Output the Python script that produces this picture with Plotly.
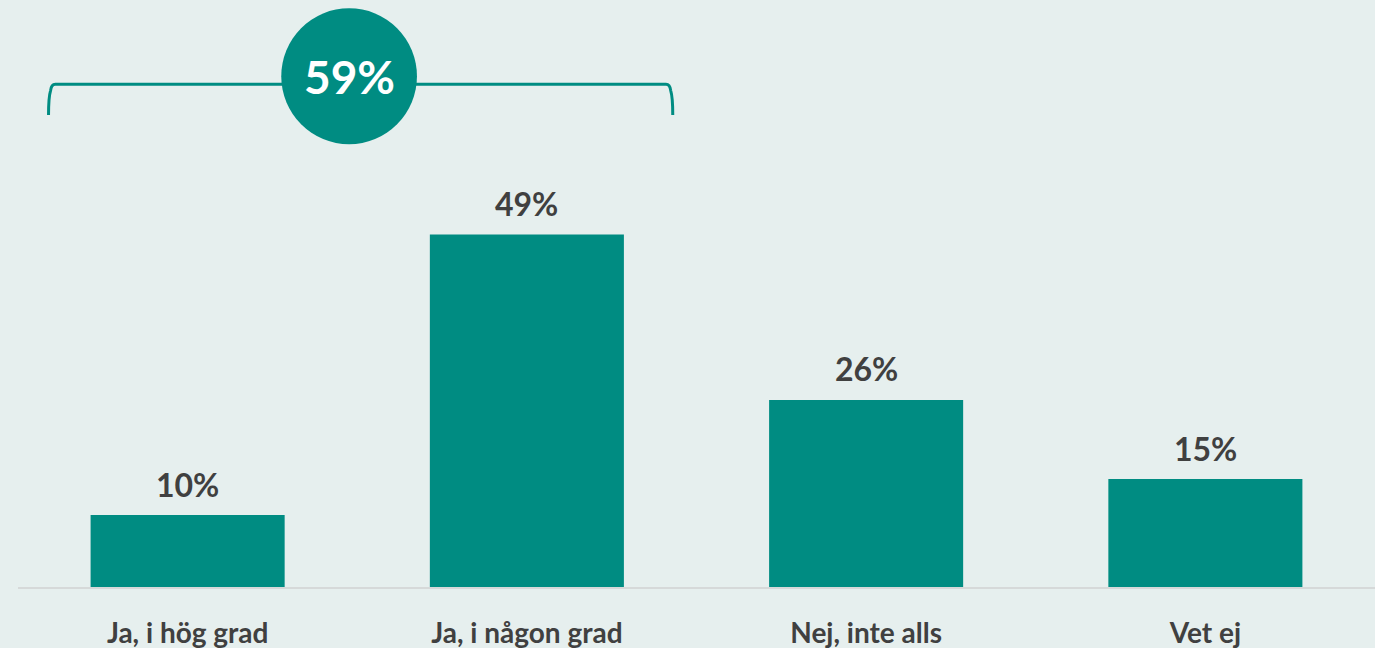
import plotly.graph_objects as go

# Survey answers and shares (%)
categories = ["Ja, i hög grad", "Ja, i någon grad", "Nej, inte alls", "Vet ej"]
shares = [10, 49, 26, 15]
combined_label = "59%"

BG = "#E6EFEE"
TEAL = "#008C82"
TEXT = "#404040"
FONT = "Lato"

fig = go.Figure()
fig.add_trace(go.Bar(
    x=list(range(len(categories))),
    y=shares,
    marker=dict(color=TEAL, line=dict(width=0)),
    hoverinfo="skip",
))

# value labels above each bar
for i, val in enumerate(shares):
    fig.add_annotation(
        x=i, y=val, text=f"<b>{val}%</b>", showarrow=False,
        yanchor="middle", yshift=31,
        font=dict(family=FONT, size=32, color=TEXT),
    )

# bracket over the two "Ja" answers, with a rounded corner at each end
x0, x1 = -0.41, 1.43
y_top, y_end = 69.9, 65.6
rx, ry = 0.02, 0.9
bracket = (
    f"M {x0},{y_end} "
    f"Q {x0},{y_top - ry * 2} {x0 + rx * 0.3},{y_top - ry} "
    f"Q {x0 + rx * 0.4},{y_top} {x0 + rx},{y_top} "
    f"L {x1 - rx},{y_top} "
    f"Q {x1 - rx * 0.4},{y_top} {x1 - rx * 0.3},{y_top - ry} "
    f"Q {x1},{y_top - ry * 2} {x1},{y_end}"
)
fig.add_shape(type="path", path=bracket, xref="x", yref="y",
              line=dict(color=TEAL, width=3), layer="above")

# circle badge holding the combined share
cx, cy = 0.476, 71.0
r_x, r_y = 0.2, 9.45
fig.add_shape(type="circle", xref="x", yref="y",
              x0=cx - r_x, x1=cx + r_x, y0=cy - r_y, y1=cy + r_y,
              fillcolor=TEAL, line=dict(width=0), layer="above")
fig.add_annotation(x=cx, y=cy, text=f"<b>{combined_label}</b>", showarrow=False,
                   font=dict(family=FONT, size=46, color="white"))

fig.update_layout(
    width=1375, height=648,
    margin=dict(l=18, r=0, t=0, b=61),
    paper_bgcolor=BG, plot_bgcolor=BG,
    bargap=0.428,
    showlegend=False,
    xaxis=dict(
        showgrid=False, zeroline=False,
        showline=True, linecolor="#D6D9D9", linewidth=2,
        ticks="outside", ticklen=20, tickcolor="rgba(0,0,0,0)",
        tickfont=dict(family=FONT, size=28, color=TEXT),
        tickvals=list(range(len(categories))),
        ticktext=[f"<b>{c}</b>" for c in categories],
        range=[-0.5, 3.5], fixedrange=True,
    ),
    yaxis=dict(
        range=[0, 81.6], visible=False, fixedrange=True,
    ),
)

fig.write_html("out.html")
